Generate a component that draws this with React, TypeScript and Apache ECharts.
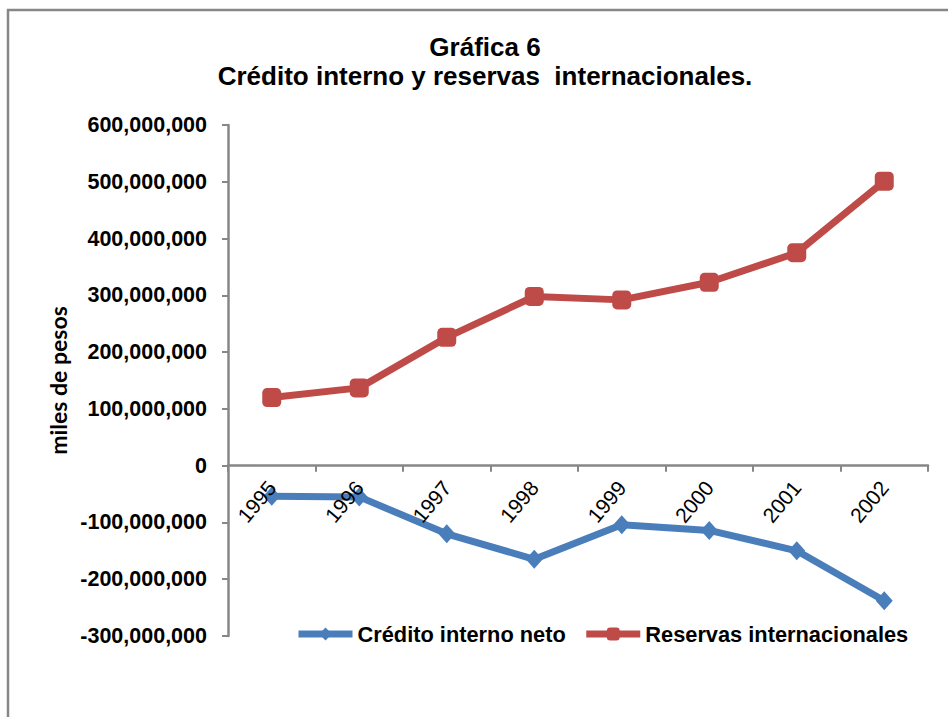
import React, { useEffect, useRef } from "react";
import * as echarts from "echarts";

const years = ["1995", "1996", "1997", "1998", "1999", "2000", "2001", "2002"];
const creditoInterno = [-54e6, -55e6, -120e6, -165e6, -104e6, -114e6, -150e6, -238e6];
const reservasInternacionales = [120e6, 137e6, 226e6, 298e6, 292e6, 323e6, 375e6, 501e6];
const seriesNames = ["Crédito interno neto", "Reservas internacionales"];
const titleLines = ["Gráfica 6", "Crédito interno y reservas  internacionales."];
const yAxisName = "miles de pesos";
const yMin = -300e6;
const yMax = 600e6;
const yStep = 100e6;

const FONT = "'Liberation Sans', Arial, sans-serif";
const AXIS_GRAY = "#878787";

const GRID_TOP = 125;
const GRID_BOTTOM = 81;
const CHART_H = 717;

export default function App() {
  const ref = useRef<HTMLDivElement>(null);
  useEffect(() => {
    if (!ref.current) return;
    const chart = echarts.init(ref.current, undefined, { renderer: "svg" });
    const plotH = CHART_H - GRID_TOP - GRID_BOTTOM;
    // distance from the grid bottom up to the zero line (moves the category axis onto y = 0)
    const zeroOffset = -(plotH * (0 - yMin)) / (yMax - yMin);
    chart.setOption({
      animation: false,
      backgroundColor: "#ffffff",
      title: {
        text: titleLines.join("\n"),
        left: 485,
        top: 32,
        padding: 0,
        textAlign: "center",
        textStyle: {
          fontFamily: FONT,
          fontWeight: "bold",
          fontSize: 26,
          lineHeight: 29,
          color: "#000",
        },
      },
      graphic: [
        {
          type: "rect",
          shape: { x: 8, y: 10, width: 980, height: 760 },
          style: { fill: "none", stroke: AXIS_GRAY, lineWidth: 2.5 },
          silent: true,
          z: -1,
        },
      ],
      legend: {
        data: seriesNames,
        left: 295,
        top: 623,
        padding: 0,
        itemWidth: 54,
        itemHeight: 16,
        itemGap: 17,
        lineStyle: { width: 7 },
        textStyle: {
          fontFamily: FONT,
          fontWeight: "bold",
          fontSize: 21.8,
          color: "#000",
        },
      },
      grid: { left: 228, right: 20, top: GRID_TOP, bottom: GRID_BOTTOM, containLabel: false },
      xAxis: {
        type: "category",
        data: years,
        boundaryGap: true,
        position: "bottom",
        offset: zeroOffset,
        z: 5,
        axisLine: { show: true, onZero: false, lineStyle: { color: AXIS_GRAY, width: 2.5 } },
        axisTick: { show: true, length: 6, lineStyle: { color: AXIS_GRAY, width: 2 } },
        axisLabel: {
          rotate: 50,
          margin: 18,
          fontFamily: FONT,
          fontSize: 21,
          color: "#000",
          interval: 0,
        },
        splitLine: { show: false },
      },
      yAxis: {
        type: "value",
        min: yMin,
        max: yMax,
        interval: yStep,
        name: yAxisName,
        nameLocation: "middle",
        nameGap: 159,
        nameRotate: 90,
        nameTextStyle: {
          fontFamily: "Lato, 'Open Sans', sans-serif",
          fontWeight: "bold",
          fontSize: 23,
          color: "#000",
        },
        axisLine: { show: true, lineStyle: { color: AXIS_GRAY, width: 2.5 } },
        axisTick: { show: true, length: 6, lineStyle: { color: AXIS_GRAY, width: 2 } },
        axisLabel: {
          margin: 21,
          fontFamily: FONT,
          fontWeight: "bold",
          fontSize: 21.5,
          color: "#000",
          formatter: (v: number) =>
            (v < 0 ? "-" : "") + Math.abs(v).toString().replace(/\B(?=(\d{3})+(?!\d))/g, ","),
        },
        splitLine: { show: false },
      },
      series: [
        {
          name: seriesNames[0],
          type: "line",
          data: creditoInterno,
          symbol: "diamond",
          symbolSize: [17, 19],
          lineStyle: { color: "#4A7EBB", width: 7 },
          itemStyle: { color: "#4A7EBB" },
          z: 3,
        },
        {
          name: seriesNames[1],
          type: "line",
          data: reservasInternacionales,
          symbol: "roundRect",
          symbolSize: 19,
          lineStyle: { color: "#BE4B48", width: 7 },
          itemStyle: { color: "#BE4B48" },
          z: 3,
        },
      ],
    });
    return () => chart.dispose();
  }, []);
  return (
    <div
      ref={ref}
      style={{ position: "fixed", left: 0, top: 0, width: 948, height: 717 }}
    />
  );
}
